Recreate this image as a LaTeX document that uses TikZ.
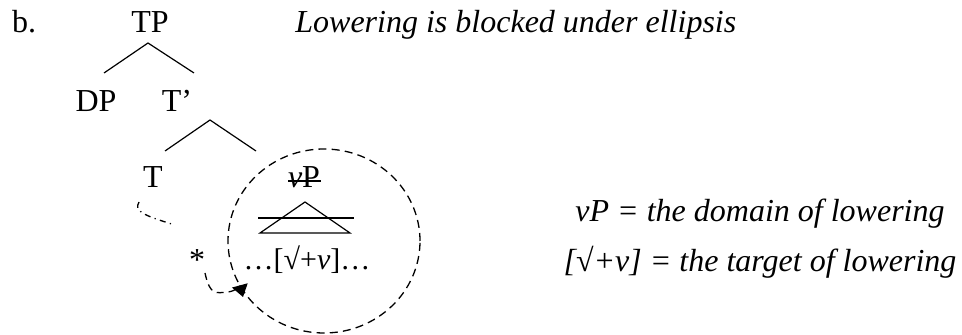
\documentclass[tikz,border=0pt]{standalone}
\usepackage{fontspec}
\setmainfont{Liberation Serif}
\usetikzlibrary{arrows.meta}
\begin{document}
\begin{tikzpicture}[x=0.5pt,y=-0.5pt,
  lbl/.style={font=\fontsize{16}{19}\selectfont, inner sep=0pt, anchor=base},
  branch/.style={line width=0.6pt},
  ellcircle/.style={line width=0.65pt, dash pattern=on 4pt off 2.6pt},
  lowerpath/.style={line width=0.65pt, dash pattern=on 3pt off 2.2pt on 0.6pt off 2.2pt},
  blocked/.style={line width=0.65pt, dash pattern=on 3.5pt off 2.5pt, -{Triangle[length=6pt,width=8pt]}}]
\useasboundingbox (0,0) rectangle (962,335);
% labels
\node[lbl] (b) at (24,33) {b.};
\node[lbl] (TP) at (150,33) {TP};
\node[lbl] (DP) at (96,112) {DP};
\node[lbl] (Tbar) at (177,112) {T’};
\node[lbl] (T) at (153,188) {T};
\node[lbl] (vP) at (304,188) {\textit{v}P};
\node[lbl, font=\fontsize{15}{18}\selectfont] (ell) at (307,270) {…[√+\textit{v}]…};
\node[lbl] (star) at (197,271) {*};
\node[lbl, anchor=base west] (title) at (295,33) {\textit{Lowering is blocked under ellipsis}};
\node[lbl] (def1) at (760,222) {\textit{vP = the domain of lowering}};
\node[lbl] (def2) at (760,272) {\textit{[√+v] = the target of lowering}};
% branch points
\coordinate (tpA) at (148,43);
\coordinate (dpE) at (104,73);
\coordinate (tbE) at (194,73);
\coordinate (tbA) at (210,120);
\coordinate (tE) at (165,151);
\coordinate (vpE) at (256,151);
\draw[branch] (dpE) -- (tpA) -- (tbE);
\draw[branch] (tE) -- (tbA) -- (vpE);
% strike through vP
\draw[line width=0.7pt] (288,181) -- (321,181);
% triangle with strike
\coordinate (triA) at (305,202);
\coordinate (triL) at (260,233);
\coordinate (triR) at (350,233);
\draw[branch] (triA) -- (triL) -- (triR) -- cycle;
\draw[line width=0.8pt] (258,218) -- (354,218);
% ellipsis domain
\coordinate (cc) at (324,241);
\draw[ellcircle] (cc) ellipse [x radius=48pt, y radius=46pt];
% lowering path from T
\coordinate (lp0) at (139,202);
\coordinate (lp1) at (175,225);
\draw[lowerpath] (lp0) .. controls (134,211) and (142,215) .. (lp1);
% blocked arrow
\coordinate (ar0) at (205,273);
\coordinate (ar1) at (228,292);
\coordinate (ar2) at (243,297);
\draw[blocked] (ar0) .. controls (210,296) and (216,293) .. (ar1) .. controls (236,291) and (240,286) .. (ar2);
\end{tikzpicture}
\end{document}
